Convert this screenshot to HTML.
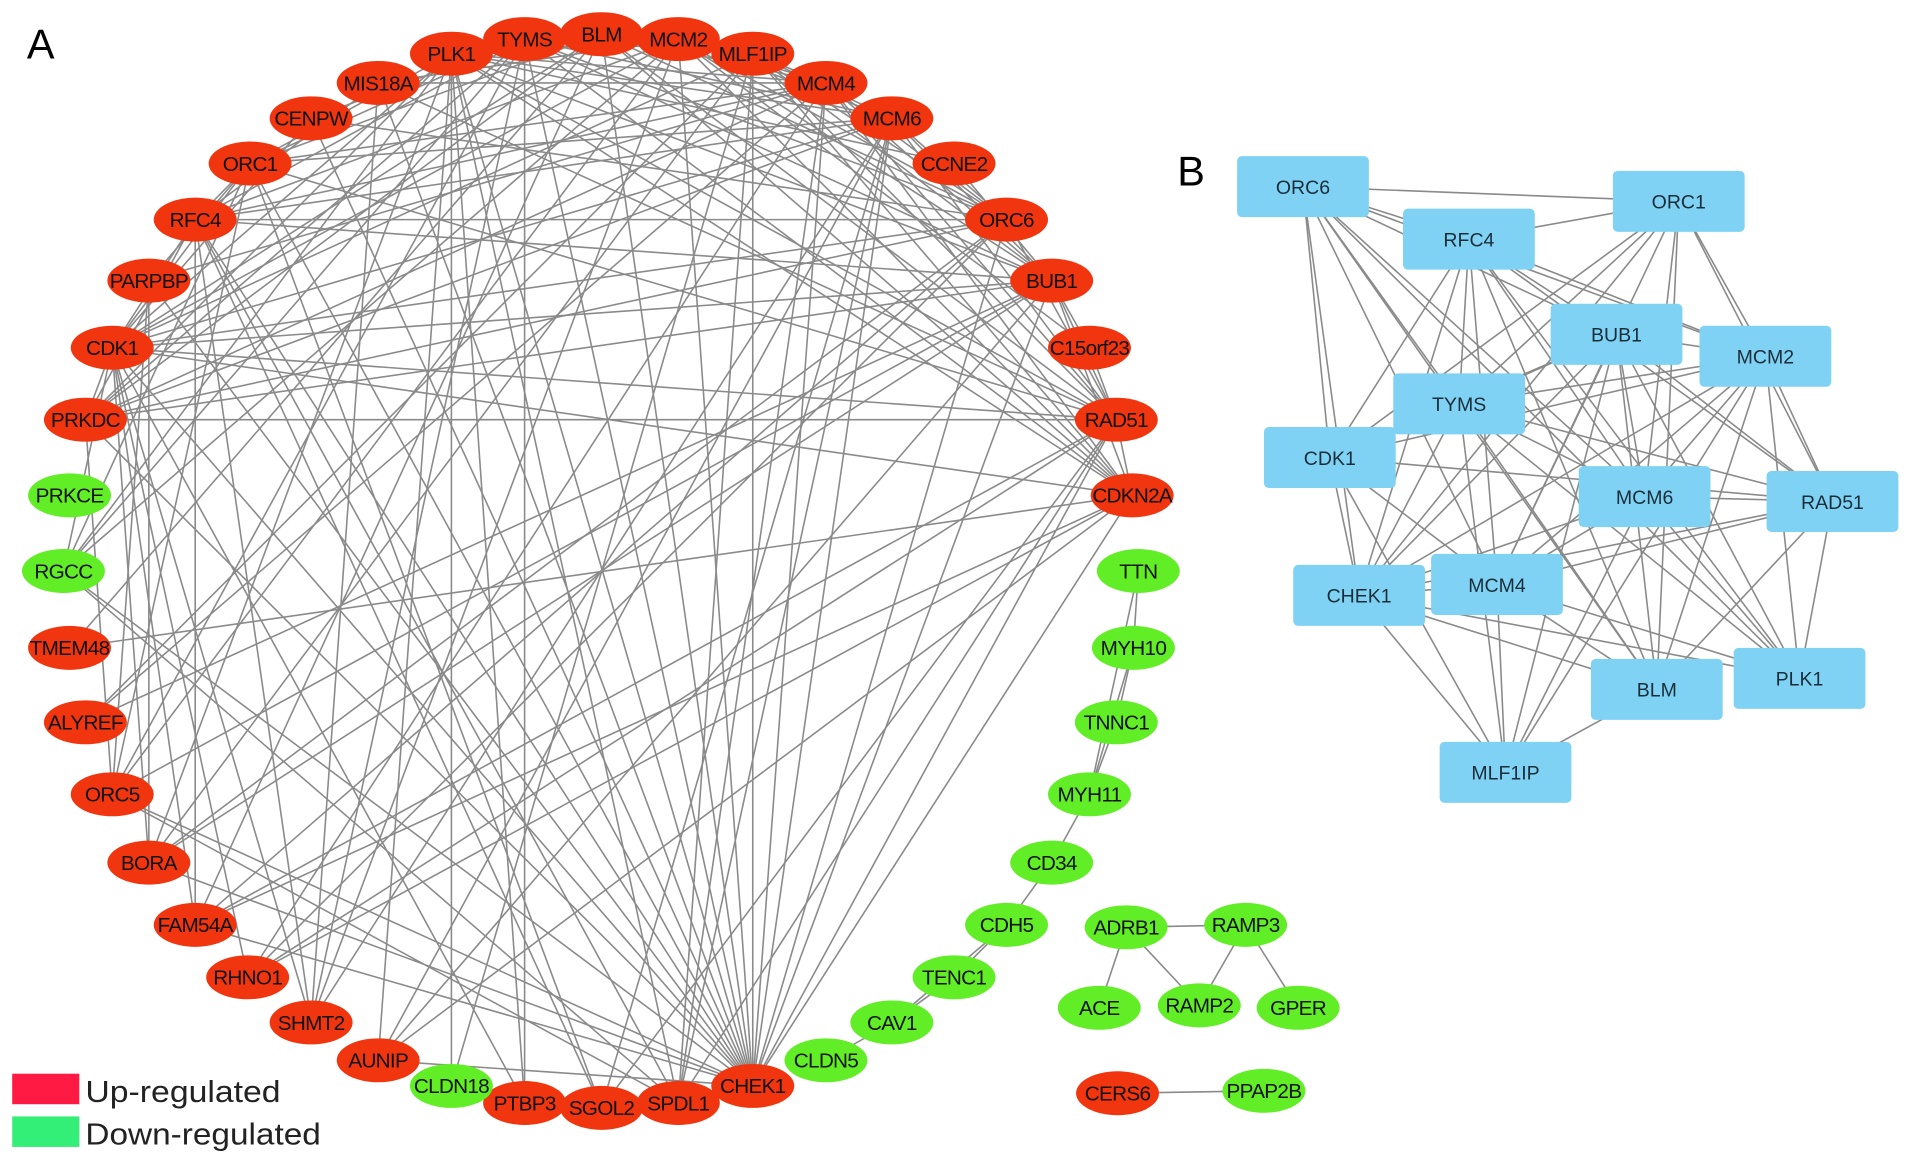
<!DOCTYPE html>
<html><head><meta charset="utf-8"><style>
html,body{margin:0;padding:0;background:#fff;}
svg{display:block;}
text{font-family:"Liberation Sans",sans-serif;}
</style></head><body>
<svg id="s" width="1913" height="1164" viewBox="0 0 1568 954" preserveAspectRatio="none" xmlns="http://www.w3.org/2000/svg">
<rect width="1568" height="954" fill="#fff"/>
<g id="edges" stroke="#8a8a8a" stroke-width="1.3"></g>
<g id="nodes"></g>
<text x="22" y="48" font-size="34">A</text>
<text x="965" y="152" font-size="34">B</text>
<rect x="10" y="880" width="55" height="25" fill="#ff1a44"/>
<rect x="10" y="915" width="55" height="25" fill="#33ee77"/>
<text x="70" y="903" font-size="25" fill="#222" textLength="160" lengthAdjust="spacingAndGlyphs">Up-regulated</text>
<text x="70" y="938" font-size="25" fill="#222" textLength="193" lengthAdjust="spacingAndGlyphs">Down-regulated</text>
</svg>
<script>
var NS="http://www.w3.org/2000/svg";
var A=[["PLK1",370,44,1],["TYMS",430,32,1],["BLM",493,28,1],["MCM2",556,32,1],["MLF1IP",617,44,1],["MCM4",677,68,1],["MCM6",731,97,1],["CCNE2",782,134,1],["ORC6",825,180,1],["BUB1",862,230,1],["C15orf23",893,285,1],["RAD51",915,344,1],["CDKN2A",928,406,1],["TTN",933,468,0],["MYH10",929,531,0],["TNNC1",915,592,0],["MYH11",893,651,0],["CD34",862,707,0],["CDH5",825,758,0],["TENC1",782,801,0],["CAV1",731,838,0],["CLDN5",677,869,0],["CHEK1",617,890,1],["SPDL1",556,904,1],["SGOL2",493,908,1],["PTBP3",430,904,1],["CLDN18",370,890,0],["AUNIP",310,869,1],["SHMT2",255,838,1],["RHNO1",203,801,1],["FAM54A",160,758,1],["BORA",122,707,1],["ORC5",92,651,1],["ALYREF",70,592,1],["TMEM48",57,531,1],["RGCC",52,468,0],["PRKCE",57,406,0],["PRKDC",70,344,1],["CDK1",92,285,1],["PARPBP",122,230,1],["RFC4",160,180,1],["ORC1",205,134,1],["CENPW",255,97,1],["MIS18A",310,68,1],
["ADRB1",923,760,0],["RAMP3",1021,758,0],["ACE",901,826,0],["RAMP2",983,824,0],["GPER",1064,826,0],["CERS6",916,896,1],["PPAP2B",1036,894,0]];
var idx={};A.forEach(function(n,i){idx[n[0]]=i;});
var eg=document.getElementById("edges"),ng=document.getElementById("nodes");
function line(x1,y1,x2,y2){var l=document.createElementNS(NS,"line");l.setAttribute("x1",x1);l.setAttribute("y1",y1);l.setAttribute("x2",x2);l.setAttribute("y2",y2);eg.appendChild(l);}
var seed=12345;function rnd(){seed=(seed*1103515245+12345)%2147483648;return seed/2147483648;}
var hubs={"CHEK1":0.85,"CDK1":0.7,"RAD51":0.65,"RFC4":0.6,"BUB1":0.6,"PLK1":0.55,"TYMS":0.55,"BLM":0.55,"MCM2":0.55,"MLF1IP":0.55,"MCM4":0.55,"MCM6":0.55,"ORC6":0.5,"ORC1":0.5,"CDKN2A":0.35,"PRKDC":0.25};
var red=[];for(var i=0;i<44;i++)if(A[i][3])red.push(i);
red.push(idx["RGCC"]);red.push(idx["CLDN18"]);
for(var a=0;a<red.length;a++)for(var b=a+1;b<red.length;b++){
 var na=A[red[a]][0],nb=A[red[b]][0];
 var p=Math.max(hubs[na]||0.05,hubs[nb]||0.05)*((hubs[na]&&hubs[nb])?1.25:0.5);
 if(rnd()<p)line(A[red[a]][1],A[red[a]][2],A[red[b]][1],A[red[b]][2]);
}
[["TTN","MYH10"],["MYH10","TNNC1"],["TNNC1","MYH11"],["TTN","MYH11"],["MYH10","MYH11"],["MYH11","CD34"],["CD34","CDH5"],["CDH5","TENC1"],["TENC1","CAV1"],["CDH5","CAV1"],["CAV1","CLDN5"],["CLDN18","PTBP3"],
["ADRB1","RAMP3"],["ADRB1","ACE"],["ADRB1","RAMP2"],["RAMP3","RAMP2"],["RAMP3","GPER"],["CERS6","PPAP2B"]].forEach(function(e){var p=A[idx[e[0]]],q=A[idx[e[1]]];line(p[1],p[2],q[1],q[2]);});
A.forEach(function(n){
 var e=document.createElementNS(NS,"ellipse");e.setAttribute("cx",n[1]);e.setAttribute("cy",n[2]);e.setAttribute("rx",34);e.setAttribute("ry",18);e.setAttribute("fill",n[3]?"#f0350f":"#62ee26");ng.appendChild(e);
 var t=document.createElementNS(NS,"text");t.setAttribute("x",n[1]);t.setAttribute("y",n[2]+6);t.setAttribute("font-size","17");t.setAttribute("text-anchor","middle");t.setAttribute("letter-spacing","-0.6");t.setAttribute("fill","#111");t.textContent=n[0];ng.appendChild(t);
});
var B=[["ORC6",1068,153],["ORC1",1376,165],["RFC4",1204,196],["BUB1",1325,274],["MCM2",1447,292],["TYMS",1196,331],["CDK1",1090,375],["MCM6",1348,407],["RAD51",1502,411],["CHEK1",1114,488],["MCM4",1227,479],["BLM",1358,565],["PLK1",1475,556],["MLF1IP",1234,633]];
seed=777;
for(var a=0;a<B.length;a++)for(var b=a+1;b<B.length;b++){if(rnd()<0.8)line(B[a][1],B[a][2],B[b][1],B[b][2]);}
B.forEach(function(n){
 var r=document.createElementNS(NS,"rect");r.setAttribute("x",n[1]-54);r.setAttribute("y",n[2]-25);r.setAttribute("width",108);r.setAttribute("height",50);r.setAttribute("rx",4);r.setAttribute("fill","#80d2f4");ng.appendChild(r);
 var t=document.createElementNS(NS,"text");t.setAttribute("x",n[1]);t.setAttribute("y",n[2]+6);t.setAttribute("font-size","16");t.setAttribute("text-anchor","middle");t.setAttribute("fill","#1a2e3a");t.textContent=n[0];ng.appendChild(t);
});
</script>
</body></html>
